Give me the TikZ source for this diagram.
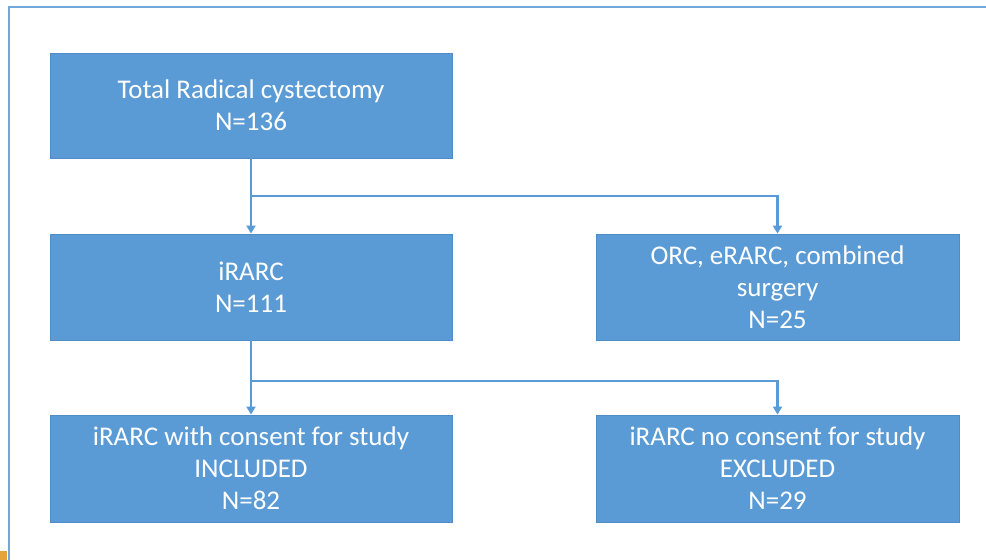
\documentclass[tikz,border=0pt]{standalone}
\usepackage{fontspec}
\setmainfont{Carlito}
\usetikzlibrary{arrows.meta,calc}
\definecolor{boxblue}{HTML}{5B9BD5}
\definecolor{boxedge}{HTML}{4F8CC6}
\definecolor{frameblue}{HTML}{6FA6DC}
\definecolor{markorange}{HTML}{E6A23C}
\tikzset{
  box/.style={fill=boxblue, draw=boxedge, line width=0.8bp, text=white,
    align=center, inner sep=0pt, font=\fontsize{27bp}{32bp}\selectfont},
  conn/.style={draw=boxblue, line width=2.2bp},
  arr/.style={conn, -{Triangle[length=8bp,width=9bp]}}
}
\begin{document}
\begin{tikzpicture}[x=1bp,y=-1bp]
\useasboundingbox (0,0) rectangle (986,560);
% frame
\draw[frameblue, line width=2bp] (9,560) -- (9,7) -- (986,7);
\fill[markorange] (0,551) rectangle (7,560);
% boxes
\node[box, minimum width=402bp, minimum height=105bp] (b1) at (251,105.5)
  {Total Radical cystectomy\\N=136};
\node[box, minimum width=402bp, minimum height=106bp] (b2) at (251,287)
  {iRARC\\N=111};
\node[box, minimum width=363bp, minimum height=106bp] (b3) at (777.5,287)
  {ORC, eRARC, combined\\surgery\\N=25};
\node[box, minimum width=402bp, minimum height=107bp] (b4) at (251,468.5)
  {iRARC with consent for study\\INCLUDED\\N=82};
\node[box, minimum width=363bp, minimum height=107bp] (b5) at (777.5,468.5)
  {iRARC no consent for study\\EXCLUDED\\N=29};
% connectors
\coordinate (j1) at ($(b1.south)!0.5!(b2.north)$);
\coordinate (j2) at ($(b2.south)!0.55!(b4.north)$);
\draw[arr] (b1.south) -- (b2.north);
\draw[arr] (j1) -| (b3.north);
\draw[arr] (b2.south) -- (b4.north);
\draw[arr] (j2) -| (b5.north);
\end{tikzpicture}
\end{document}
